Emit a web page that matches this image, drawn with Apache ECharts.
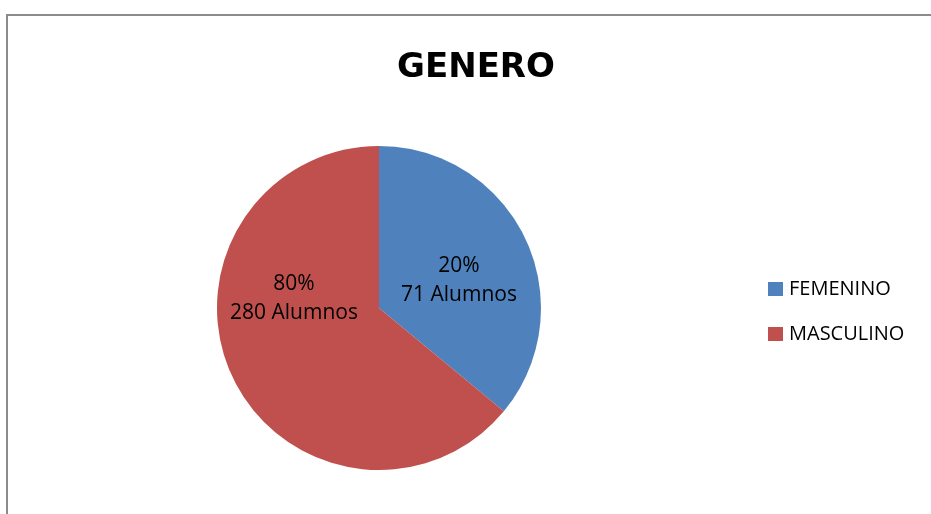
<!DOCTYPE html>
<html>
<head>
<meta charset="utf-8">
<script src="https://cdn.jsdelivr.net/npm/echarts@6/dist/echarts.min.js"></script>
<style>
  html, body { margin: 0; padding: 0; background: #fff; }
  #frame {
    position: absolute; left: 6px; top: 14px; width: 1000px; height: 600px;
    border-left: 2px solid #8c8c8c; border-top: 2px solid #8c8c8c;
  }
  #chart { position: absolute; left: 0; top: 0; width: 931px; height: 514px; }
</style>
</head>
<body>
<div id="frame"></div>
<div id="chart"></div>
<script>
'use strict';
const categories = ['FEMENINO', 'MASCULINO'];
// slice sizes as drawn in the picture
const sliceValues = [36, 64];
// texts printed on the slices
const percentLabels = ['20%', '80%'];
const alumnos = [71, 280];
const colorList = ['#4F81BD', '#C0504D'];
const labelShift = [[4, 8], [-9, -45]];

let instance = echarts.init(document.getElementById('chart'));
instance.setOption({
    animation: false,
    color: colorList,
    title: {
        text: 'GENERO',
        left: 471,
        textAlign: 'center',
        top: 46,
        textStyle: {
            fontFamily: 'DejaVu Sans',
            fontWeight: 'bold',
            fontSize: 34,
            color: '#000'
        }
    },
    legend: {
        orient: 'vertical',
        left: 763,
        top: 274,
        icon: 'rect',
        itemWidth: 15,
        itemHeight: 14,
        itemGap: 25,
        data: categories,
        textStyle: {
            fontFamily: 'Open Sans',
            fontSize: 20,
            color: '#000',
            padding: [0, 0, 0, 1]
        }
    },
    series: [{
        type: 'pie',
        center: [379, 308],
        radius: 162,
        startAngle: 90,
        clockwise: true,
        silent: true,
        label: {
            position: 'inside',
            color: '#000',
            fontFamily: 'Open Sans',
            fontSize: 21,
            lineHeight: 29,
            formatter: (p) => percentLabels[p.dataIndex] + '\n' + alumnos[p.dataIndex] + ' Alumnos'
        },
        labelLayout: (p) => ({
            dx: labelShift[p.dataIndex][0],
            dy: labelShift[p.dataIndex][1]
        }),
        data: categories.map((name, i) => ({ name: name, value: sliceValues[i] }))
    }]
});
</script>
</body>
</html>
